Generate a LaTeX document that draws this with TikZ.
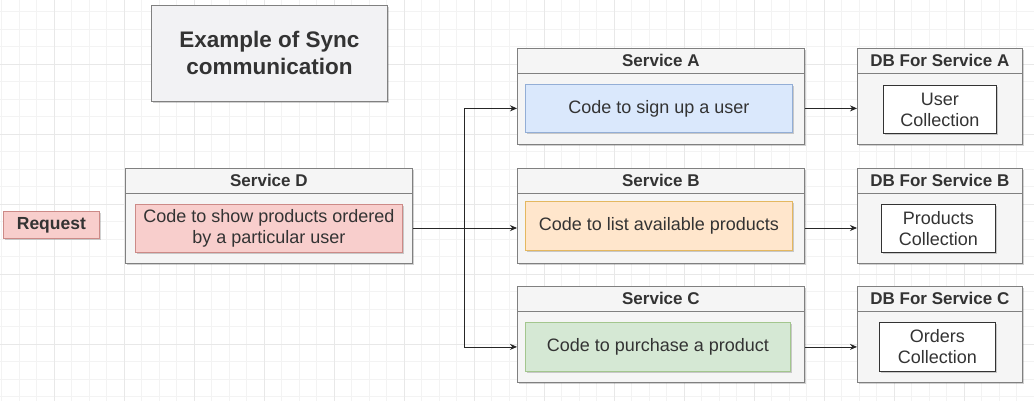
\documentclass[tikz,border=0pt]{standalone}
\usepackage{fontspec}
\setmainfont{Liberation Sans}
\usetikzlibrary{shadows,arrows.meta}
\definecolor{txt}{HTML}{333333}
\definecolor{contf}{HTML}{F5F5F5}
\definecolor{contd}{HTML}{808080}
\definecolor{titlef}{HTML}{F2F2F4}
\definecolor{redf}{HTML}{F8CECC}
\definecolor{redd}{HTML}{CC8A87}
\definecolor{bluef}{HTML}{DAE8FC}
\definecolor{blued}{HTML}{93AED6}
\definecolor{orangef}{HTML}{FFE6CC}
\definecolor{oranged}{HTML}{E4B860}
\definecolor{greenf}{HTML}{D5E8D4}
\definecolor{greend}{HTML}{A3C68E}
\definecolor{gridminor}{HTML}{F3F3F3}
\definecolor{gridmajor}{HTML}{E8E8E8}
\tikzset{
  shapebox/.style={rectangle, anchor=north west, inner sep=0pt, line width=0.8pt,
    drop shadow={shadow xshift=2pt, shadow yshift=-2pt, opacity=0.18, fill=black}},
  cont/.style={shapebox, fill=contf, draw=contd},
  innerbox/.style={shapebox, align=center},
  hdr/.style={font=\fontsize{17}{20}\selectfont\bfseries, text=txt},
  sepline/.style={draw=contd, line width=0.8pt},
  conn/.style={draw=black!85, line width=0.8pt},
  arr/.style={conn, -{Stealth[length=7pt,width=6pt]}},
}
\begin{document}
\begin{tikzpicture}[x=1pt,y=-1pt, font=\fontsize{18}{21}\selectfont, text=txt]
\useasboundingbox (0,0) rectangle (1034,401);
\fill[white] (0,0) rectangle (1034,401);
% grid
\foreach \i in {0,...,59} \draw[gridminor, line width=0.6pt] ({1.5+17.5*\i},0) -- ({1.5+17.5*\i},401);
\foreach \i in {0,...,22} \draw[gridminor, line width=0.6pt] (0,{11.5+17.5*\i}) -- (1034,{11.5+17.5*\i});
\foreach \i in {0,...,14} \draw[gridmajor, line width=0.7pt] ({54+70*\i},0) -- ({54+70*\i},401);
\foreach \i in {0,...,4} \draw[gridmajor, line width=0.7pt] (0,{64+70*\i}) -- (1034,{64+70*\i});

% title
\node[cont, fill=titlef, minimum width=236pt, minimum height=96pt, align=center,
  font=\fontsize{22.5}{27}\selectfont\bfseries] (title) at (151,5) {Example of Sync\\communication};

% request
\node[shapebox, fill=redf, draw=redd, minimum width=96pt, minimum height=27pt,
  font=\fontsize{17.5}{20}\selectfont\bfseries] (req) at (3,211) {Request};

% Service D
\node[cont, minimum width=287pt, minimum height=95pt] (sd) at (125,168) {};
\draw[sepline] ([yshift=-25pt]sd.north west) -- ([yshift=-25pt]sd.north east);
\node[hdr] (sdh) at ([yshift=-12.5pt]sd.north) {Service D};
\node[innerbox, fill=redf, draw=redd, minimum width=267pt, minimum height=48pt] (sdc) at (135,204) {Code to show products ordered\\by a particular user};

% Service A
\node[cont, minimum width=287pt, minimum height=96pt] (sa) at (517,48) {};
\draw[sepline] ([yshift=-25pt]sa.north west) -- ([yshift=-25pt]sa.north east);
\node[hdr] (sah) at ([yshift=-12.5pt]sa.north) {Service A};
\node[innerbox, fill=bluef, draw=blued, minimum width=267pt, minimum height=48pt] (sac) at (525,84) {Code to sign up a user};

% Service B
\node[cont, minimum width=287pt, minimum height=95pt] (sb) at (517,168) {};
\draw[sepline] ([yshift=-25pt]sb.north west) -- ([yshift=-25pt]sb.north east);
\node[hdr] (sbh) at ([yshift=-12.5pt]sb.north) {Service B};
\node[innerbox, fill=orangef, draw=oranged, minimum width=267pt, minimum height=49pt] (sbc) at (525,201) {Code to list available products};

% Service C
\node[cont, minimum width=287pt, minimum height=96pt] (sc) at (517,286) {};
\draw[sepline] ([yshift=-25pt]sc.north west) -- ([yshift=-25pt]sc.north east);
\node[hdr] (sch) at ([yshift=-12.5pt]sc.north) {Service C};
\node[innerbox, fill=greenf, draw=greend, minimum width=265pt, minimum height=49pt] (scc) at (525,322) {Code to purchase a product};

% DB A
\node[cont, minimum width=165pt, minimum height=96pt] (dba) at (857,48) {};
\draw[sepline] ([yshift=-25pt]dba.north west) -- ([yshift=-25pt]dba.north east);
\node[hdr] (dbah) at ([yshift=-12.5pt]dba.north) {DB For Service A};
\node[innerbox, fill=white, draw=black!80, minimum width=113pt, minimum height=48pt] (dbac) at (883,85) {User\\Collection};

% DB B
\node[cont, minimum width=165pt, minimum height=95pt] (dbb) at (857,168) {};
\draw[sepline] ([yshift=-25pt]dbb.north west) -- ([yshift=-25pt]dbb.north east);
\node[hdr] (dbbh) at ([yshift=-12.5pt]dbb.north) {DB For Service B};
\node[innerbox, fill=white, draw=black!80, minimum width=114pt, minimum height=48pt] (dbbc) at (881,204) {Products\\Collection};

% DB C
\node[cont, minimum width=165pt, minimum height=96pt] (dbc) at (857,286) {};
\draw[sepline] ([yshift=-25pt]dbc.north west) -- ([yshift=-25pt]dbc.north east);
\node[hdr] (dbch) at ([yshift=-12.5pt]dbc.north) {DB For Service C};
\node[innerbox, fill=white, draw=black!80, minimum width=116pt, minimum height=49pt] (dbcc) at (879,322) {Orders\\Collection};

% connectors
\coordinate (br) at (464,228);
\draw[conn] (sd.east |- br) -- (br);
\draw[arr] (br) |- (sa.west |- sac.center);
\draw[arr] (br) -- (sb.west |- br);
\draw[arr] (br) |- (sc.west |- scc.center);
\draw[arr] (sa.east |- sac.center) -- (dba.west |- sac.center);
\draw[arr] (sb.east |- br) -- (dbb.west |- br);
\draw[arr] (sc.east |- scc.center) -- (dbc.west |- scc.center);
\end{tikzpicture}
\end{document}
